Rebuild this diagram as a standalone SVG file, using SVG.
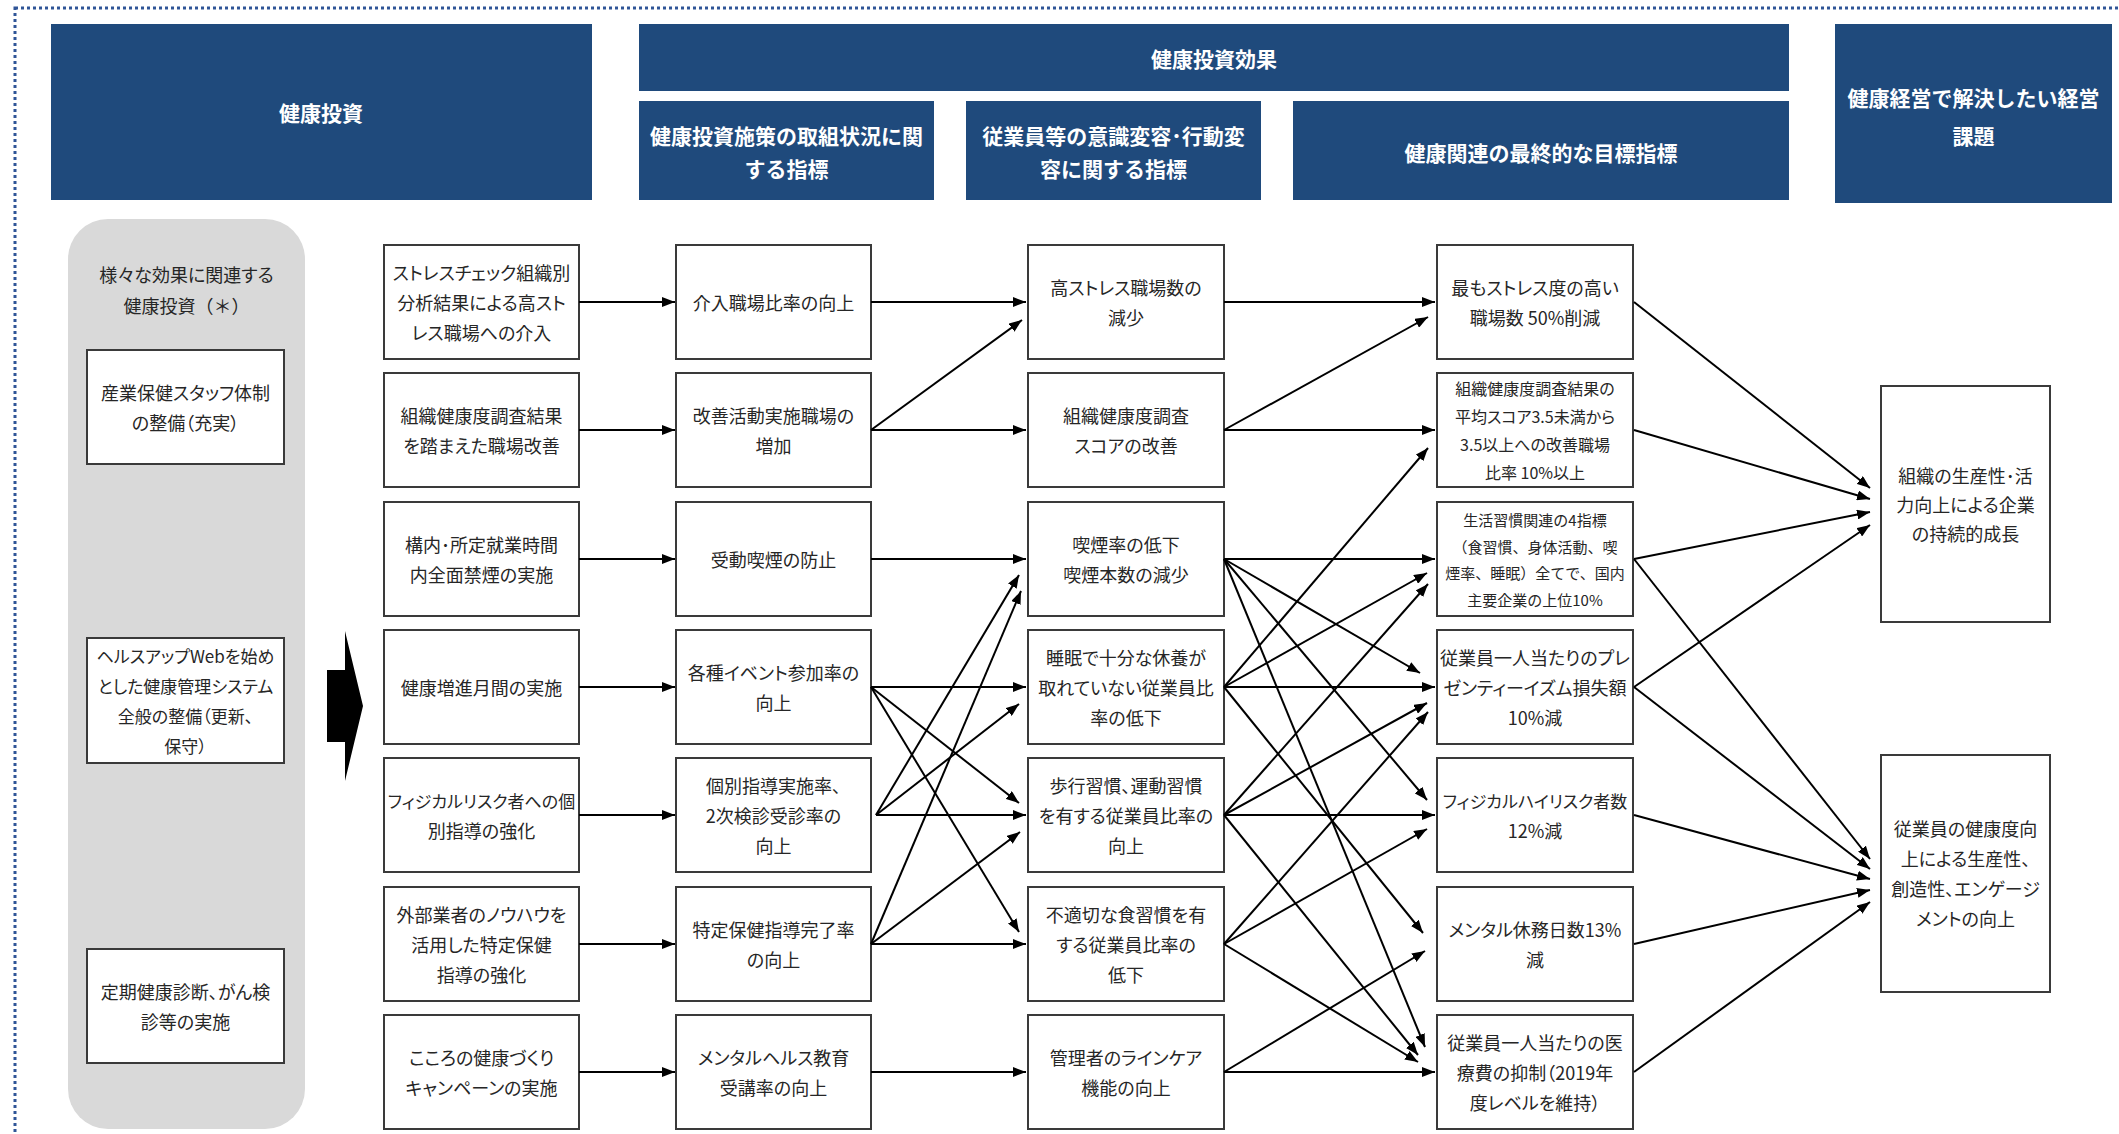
<svg xmlns="http://www.w3.org/2000/svg" width="2119" height="1134" viewBox="0 0 2119 1134">
<style>
.hdr{fill:#1F4A7C}
.hdrt{fill:#fff;font-family:"Noto Sans CJK JP","Noto Sans",sans-serif;font-size:21px;font-weight:bold;text-anchor:middle;dominant-baseline:central}
.box{fill:#fff;stroke:#3a3a3a;stroke-width:2}
.t{fill:#262626;font-family:"Noto Sans CJK JP","Noto Sans",sans-serif;font-size:18px;font-feature-settings:"palt" 1;text-anchor:middle;dominant-baseline:central}
.s17{font-size:17px}
.ts{font-size:16px}
.tx{font-size:15px;font-feature-settings:normal}
.np{font-feature-settings:normal}
.c line{stroke:#000;stroke-width:2;marker-end:url(#ah)}
</style>
<defs>
<marker id="ah" markerUnits="userSpaceOnUse" markerWidth="13" markerHeight="10" refX="13" refY="5" orient="auto">
<path d="M0,0 L13,5 L0,10 z" fill="#000"/>
</marker>
</defs>
<rect width="2119" height="1134" fill="#fff"/>
<rect x="15" y="8" width="2130" height="1150" fill="none" stroke="#2F5597" stroke-width="3" stroke-dasharray="3 3"/>

<g id="header-invest">
<rect class="hdr" x="51" y="24" width="541" height="176"/>
<text class="hdrt" x="321" y="112">健康投資</text>
</g>
<g id="header-effect">
<rect class="hdr" x="639" y="24" width="1150" height="67"/>
<text class="hdrt" x="1214" y="58">健康投資効果</text>
</g>
<g id="header-sub1">
<rect class="hdr" x="639" y="101" width="295" height="99"/>
<text class="hdrt"><tspan x="786.5" y="135">健康投資施策の取組状況に関</tspan><tspan x="786.5" y="168">する指標</tspan></text>
</g>
<g id="header-sub2">
<rect class="hdr" x="966" y="101" width="295" height="99"/>
<text class="hdrt"><tspan x="1113.5" y="135">従業員等の意識変容･行動変</tspan><tspan x="1113.5" y="168">容に関する指標</tspan></text>
</g>
<g id="header-sub3">
<rect class="hdr" x="1293" y="101" width="496" height="99"/>
<text class="hdrt" x="1541" y="152">健康関連の最終的な目標指標</text>
</g>
<g id="header-issue">
<rect class="hdr" x="1835" y="24" width="277" height="179"/>
<text class="hdrt"><tspan x="1973.5" y="97">健康経営で解決したい経営</tspan><tspan x="1973.5" y="135">課題</tspan></text>
</g>

<g id="left-group">
<rect x="68" y="219" width="237" height="910" rx="40" ry="40" fill="#D9D9D9"/>
<text class="t"><tspan x="186.5" y="274">様々な効果に関連する</tspan><tspan class="np" x="186.5" y="305">健康投資（＊）</tspan></text>
</g>
<g id="left-1">
<rect class="box" x="87" y="350" width="197" height="114"/>
<text class="t"><tspan x="185.5" y="392">産業保健スタッフ体制</tspan><tspan x="185.5" y="422">の整備（充実）</tspan></text>
</g>
<g id="left-2">
<rect class="box" x="87" y="638" width="197" height="125"/>
<text class="t s17"><tspan x="185.5" y="655">ヘルスアップWebを始め</tspan><tspan x="185.5" y="685">とした健康管理システム</tspan><tspan x="185.5" y="715">全般の整備（更新、</tspan><tspan x="185.5" y="745">保守）</tspan></text>
</g>
<g id="left-3">
<rect class="box" x="87" y="949" width="197" height="114"/>
<text class="t"><tspan x="185.5" y="991">定期健康診断、がん検</tspan><tspan x="185.5" y="1021">診等の実施</tspan></text>
</g>
<g id="big-arrow">
<path d="M327,670 H345 V631 L363,706 L345,781 V742 H327 Z" fill="#000"/>
</g>

<g id="c1r1"><rect class="box" x="384" y="245" width="195" height="114"/><text class="t"><tspan x="481.5" y="272">ストレスチェック組織別</tspan><tspan x="481.5" y="302">分析結果による高スト</tspan><tspan x="481.5" y="332">レス職場への介入</tspan></text></g>
<g id="c1r2"><rect class="box" x="384" y="373" width="195" height="114"/><text class="t"><tspan x="481.5" y="415">組織健康度調査結果</tspan><tspan x="481.5" y="445">を踏まえた職場改善</tspan></text></g>
<g id="c1r3"><rect class="box" x="384" y="502" width="195" height="114"/><text class="t"><tspan x="481.5" y="544">構内･所定就業時間</tspan><tspan x="481.5" y="574">内全面禁煙の実施</tspan></text></g>
<g id="c1r4"><rect class="box" x="384" y="630" width="195" height="114"/><text class="t" x="481.5" y="687">健康増進月間の実施</text></g>
<g id="c1r5"><rect class="box" x="384" y="758" width="195" height="114"/><text class="t"><tspan class="s17" x="481.5" y="800">フィジカルリスク者への個</tspan><tspan x="481.5" y="830">別指導の強化</tspan></text></g>
<g id="c1r6"><rect class="box" x="384" y="887" width="195" height="114"/><text class="t"><tspan x="481.5" y="914">外部業者のノウハウを</tspan><tspan x="481.5" y="944">活用した特定保健</tspan><tspan x="481.5" y="974">指導の強化</tspan></text></g>
<g id="c1r7"><rect class="box" x="384" y="1015" width="195" height="114"/><text class="t"><tspan x="481.5" y="1057">こころの健康づくり</tspan><tspan x="481.5" y="1087">キャンペーンの実施</tspan></text></g>

<g id="c2r1"><rect class="box" x="676" y="245" width="195" height="114"/><text class="t" x="773.5" y="302">介入職場比率の向上</text></g>
<g id="c2r2"><rect class="box" x="676" y="373" width="195" height="114"/><text class="t"><tspan x="773.5" y="415">改善活動実施職場の</tspan><tspan x="773.5" y="445">増加</tspan></text></g>
<g id="c2r3"><rect class="box" x="676" y="502" width="195" height="114"/><text class="t" x="773.5" y="559">受動喫煙の防止</text></g>
<g id="c2r4"><rect class="box" x="676" y="630" width="195" height="114"/><text class="t"><tspan x="773.5" y="672">各種イベント参加率の</tspan><tspan x="773.5" y="702">向上</tspan></text></g>
<g id="c2r5"><rect class="box" x="676" y="758" width="195" height="114"/><text class="t"><tspan x="773.5" y="785">個別指導実施率、</tspan><tspan x="773.5" y="815">2次検診受診率の</tspan><tspan x="773.5" y="845">向上</tspan></text></g>
<g id="c2r6"><rect class="box" x="676" y="887" width="195" height="114"/><text class="t"><tspan x="773.5" y="929">特定保健指導完了率</tspan><tspan x="773.5" y="959">の向上</tspan></text></g>
<g id="c2r7"><rect class="box" x="676" y="1015" width="195" height="114"/><text class="t"><tspan x="773.5" y="1057">メンタルヘルス教育</tspan><tspan x="773.5" y="1087">受講率の向上</tspan></text></g>

<g id="c3r1"><rect class="box" x="1028" y="245" width="196" height="114"/><text class="t"><tspan x="1126" y="287">高ストレス職場数の</tspan><tspan x="1126" y="317">減少</tspan></text></g>
<g id="c3r2"><rect class="box" x="1028" y="373" width="196" height="114"/><text class="t"><tspan x="1126" y="415">組織健康度調査</tspan><tspan x="1126" y="445">スコアの改善</tspan></text></g>
<g id="c3r3"><rect class="box" x="1028" y="502" width="196" height="114"/><text class="t"><tspan x="1126" y="544">喫煙率の低下</tspan><tspan x="1126" y="574">喫煙本数の減少</tspan></text></g>
<g id="c3r4"><rect class="box" x="1028" y="630" width="196" height="114"/><text class="t"><tspan x="1126" y="657">睡眠で十分な休養が</tspan><tspan x="1126" y="687">取れていない従業員比</tspan><tspan x="1126" y="717">率の低下</tspan></text></g>
<g id="c3r5"><rect class="box" x="1028" y="758" width="196" height="114"/><text class="t"><tspan x="1126" y="785">歩行習慣、運動習慣</tspan><tspan x="1126" y="815">を有する従業員比率の</tspan><tspan x="1126" y="845">向上</tspan></text></g>
<g id="c3r6"><rect class="box" x="1028" y="887" width="196" height="114"/><text class="t"><tspan x="1126" y="914">不適切な食習慣を有</tspan><tspan x="1126" y="944">する従業員比率の</tspan><tspan x="1126" y="974">低下</tspan></text></g>
<g id="c3r7"><rect class="box" x="1028" y="1015" width="196" height="114"/><text class="t"><tspan x="1126" y="1057">管理者のラインケア</tspan><tspan x="1126" y="1087">機能の向上</tspan></text></g>

<g id="c4r1"><rect class="box" x="1437" y="245" width="196" height="114"/><text class="t"><tspan x="1535" y="287">最もストレス度の高い</tspan><tspan x="1535" y="317">職場数 50%削減</tspan></text></g>
<g id="c4r2"><rect class="box" x="1437" y="373" width="196" height="114"/><text class="t ts"><tspan x="1535" y="388">組織健康度調査結果の</tspan><tspan x="1535" y="416">平均スコア3.5未満から</tspan><tspan x="1535" y="444">3.5以上への改善職場</tspan><tspan x="1535" y="472">比率 10%以上</tspan></text></g>
<g id="c4r3"><rect class="box" x="1437" y="502" width="196" height="114"/><text class="t tx"><tspan x="1535" y="519">生活習慣関連の4指標</tspan><tspan x="1535" y="546">（食習慣、身体活動、喫</tspan><tspan x="1535" y="572">煙率、睡眠）全てで、国内</tspan><tspan x="1535" y="599">主要企業の上位10%</tspan></text></g>
<g id="c4r4"><rect class="box" x="1437" y="630" width="196" height="114"/><text class="t"><tspan x="1535" y="657">従業員一人当たりのプレ</tspan><tspan x="1535" y="687">ゼンティーイズム損失額</tspan><tspan x="1535" y="717">10%減</tspan></text></g>
<g id="c4r5"><rect class="box" x="1437" y="758" width="196" height="114"/><text class="t"><tspan class="s17" x="1535" y="800">フィジカルハイリスク者数</tspan><tspan x="1535" y="830">12%減</tspan></text></g>
<g id="c4r6"><rect class="box" x="1437" y="887" width="196" height="114"/><text class="t"><tspan x="1535" y="929">メンタル休務日数13%</tspan><tspan x="1535" y="959">減</tspan></text></g>
<g id="c4r7"><rect class="box" x="1437" y="1015" width="196" height="114"/><text class="t"><tspan x="1535" y="1042">従業員一人当たりの医</tspan><tspan x="1535" y="1072">療費の抑制（2019年</tspan><tspan x="1535" y="1102">度レベルを維持）</tspan></text></g>

<g id="c5r1"><rect class="box" x="1881" y="386" width="169" height="236"/><text class="t"><tspan x="1965.5" y="475">組織の生産性･活</tspan><tspan x="1965.5" y="504">力向上による企業</tspan><tspan x="1965.5" y="533">の持続的成長</tspan></text></g>
<g id="c5r2"><rect class="box" x="1881" y="755" width="169" height="237"/><text class="t"><tspan x="1965.5" y="828">従業員の健康度向</tspan><tspan x="1965.5" y="858">上による生産性、</tspan><tspan x="1965.5" y="888">創造性、エンゲージ</tspan><tspan x="1965.5" y="918">メントの向上</tspan></text></g>

<g id="connectors" class="c">
<line x1="579" y1="302" x2="675" y2="302"/>
<line x1="579" y1="430" x2="675" y2="430"/>
<line x1="579" y1="559" x2="675" y2="559"/>
<line x1="579" y1="687" x2="675" y2="687"/>
<line x1="579" y1="815" x2="675" y2="815"/>
<line x1="579" y1="944" x2="675" y2="944"/>
<line x1="579" y1="1072" x2="675" y2="1072"/>

<line x1="871" y1="302" x2="1026" y2="302"/>
<line x1="871" y1="430" x2="1022" y2="320"/>
<line x1="871" y1="430" x2="1026" y2="430"/>
<line x1="871" y1="559" x2="1026" y2="559"/>
<line x1="871" y1="687" x2="1026" y2="687"/>
<line x1="871" y1="687" x2="1019" y2="803"/>
<line x1="871" y1="687" x2="1019" y2="932"/>
<line x1="876" y1="815" x2="1019" y2="575"/>
<line x1="876" y1="815" x2="1019" y2="704"/>
<line x1="876" y1="815" x2="1026" y2="815"/>
<line x1="871" y1="944" x2="1021" y2="591"/>
<line x1="871" y1="944" x2="1020" y2="832"/>
<line x1="871" y1="944" x2="1026" y2="944"/>
<line x1="871" y1="1072" x2="1026" y2="1072"/>

<line x1="1224" y1="302" x2="1435" y2="302"/>
<line x1="1224" y1="430" x2="1428" y2="317"/>
<line x1="1224" y1="430" x2="1435" y2="430"/>
<line x1="1224" y1="687" x2="1428" y2="448"/>
<line x1="1224" y1="559" x2="1435" y2="559"/>
<line x1="1224" y1="687" x2="1427" y2="573"/>
<line x1="1224" y1="815" x2="1428" y2="584"/>
<line x1="1224" y1="559" x2="1420" y2="673"/>
<line x1="1224" y1="687" x2="1435" y2="687"/>
<line x1="1224" y1="815" x2="1427" y2="703"/>
<line x1="1224" y1="944" x2="1428" y2="712"/>
<line x1="1224" y1="559" x2="1427" y2="800"/>
<line x1="1224" y1="815" x2="1435" y2="815"/>
<line x1="1224" y1="944" x2="1427" y2="829"/>
<line x1="1224" y1="687" x2="1423" y2="933"/>
<line x1="1224" y1="1072" x2="1425" y2="951"/>
<line x1="1224" y1="559" x2="1425" y2="1047"/>
<line x1="1224" y1="815" x2="1418" y2="1055"/>
<line x1="1224" y1="944" x2="1418" y2="1062"/>
<line x1="1224" y1="1072" x2="1435" y2="1072"/>

<line x1="1634" y1="302" x2="1870" y2="488"/>
<line x1="1634" y1="430" x2="1870" y2="499"/>
<line x1="1634" y1="559" x2="1870" y2="512"/>
<line x1="1634" y1="559" x2="1870" y2="859"/>
<line x1="1634" y1="687" x2="1870" y2="525"/>
<line x1="1634" y1="687" x2="1870" y2="869"/>
<line x1="1634" y1="815" x2="1870" y2="879"/>
<line x1="1634" y1="944" x2="1870" y2="890"/>
<line x1="1634" y1="1072" x2="1870" y2="902"/>
</g>
</svg>
